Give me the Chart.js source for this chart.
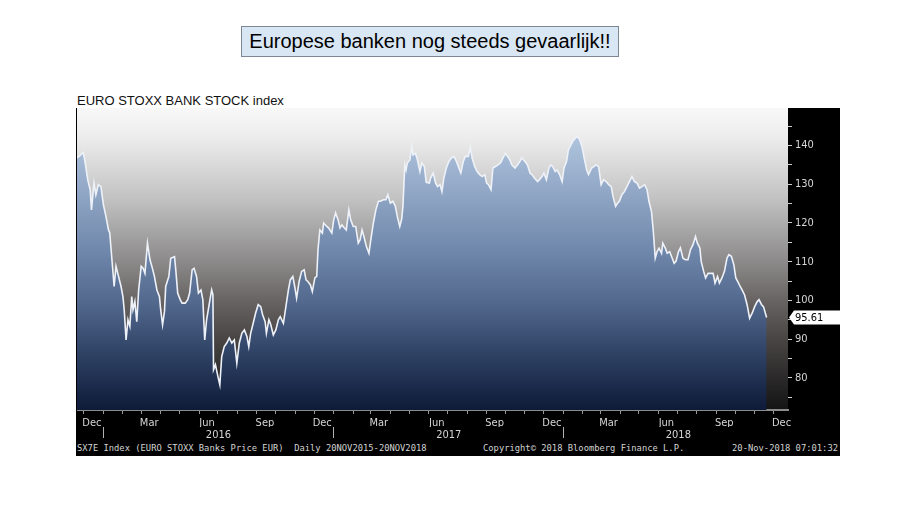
<!DOCTYPE html>
<html>
<head>
<meta charset="utf-8">
<script src="https://cdn.jsdelivr.net/npm/chart.js@4"></script>
<style>
  body { margin: 0; background: #fff; width: 907px; height: 510px; position: relative; overflow: hidden; }
  #kop { position: absolute; left: 241px; top: 26px; width: 376px; height: 29px; background: #d9e7f5;
         border: 1px solid #7d8793; font: 20px "Liberation Sans", Arial, sans-serif; text-align: center;
         line-height: 29px; color: #000; }
  #grafiek { position: absolute; left: 76px; top: 88px; width: 764px; height: 368px; background: #fff; }
  #titel { position: absolute; left: 1px; top: 5px; font: 13px "Liberation Sans", Arial, sans-serif; color: #111; }
  #vak { position: absolute; left: 0; top: 20px; width: 764px; height: 334px; background: #000; }
  #vak canvas { position: absolute; left: 1px; top: 0; }
  #voet { position: absolute; left: 0; top: 354px; width: 764px; height: 14px; background: #000; color: #d4d4d4;
          font: 8.8px "DejaVu Sans Mono", monospace; line-height: 13px; white-space: pre; }
  #voet span { position: absolute; top: 0; }
</style>
</head>
<body>
<div id="kop">Europese banken nog steeds gevaarlijk!!</div>
<div id="grafiek">
  <div id="titel">EURO STOXX BANK STOCK index</div>
  <div id="vak"><canvas id="lijn" width="763" height="334"></canvas></div>
  <div id="voet">
    <span style="left:1px">SX7E Index (EURO STOXX Banks Price EUR)  Daily 20NOV2015-20NOV2018</span>
    <span style="left:407px">Copyright© 2018 Bloomberg Finance L.P.</span>
    <span style="right:2px">20-Nov-2018 07:01:32</span>
  </div>
</div>
<script>
// Data
const startDate = "2015-11-20";
const dates = [
  "2015-11-20","2015-11-26","2015-11-30","2015-12-03","2015-12-07","2015-12-11","2015-12-13","2015-12-17","2015-12-20","2015-12-24",
  "2015-12-28","2016-01-01","2016-01-05","2016-01-09","2016-01-11","2016-01-15","2016-01-18","2016-01-21","2016-01-25","2016-01-29",
  "2016-02-01","2016-02-03","2016-02-06","2016-02-09","2016-02-12","2016-02-15","2016-02-17","2016-02-20","2016-02-23","2016-02-26",
  "2016-03-01","2016-03-04","2016-03-07","2016-03-11","2016-03-15","2016-03-18","2016-03-22","2016-03-26","2016-03-30","2016-04-01",
  "2016-04-04","2016-04-07","2016-04-09","2016-04-14","2016-04-17","2016-04-23","2016-04-25","2016-04-28","2016-05-02","2016-05-05",
  "2016-05-10","2016-05-14","2016-05-17","2016-05-21","2016-05-24","2016-05-28","2016-05-31","2016-06-04","2016-06-07","2016-06-10",
  "2016-06-13","2016-06-17","2016-06-21","2016-06-23","2016-06-24","2016-06-27","2016-07-01","2016-07-04","2016-07-07","2016-07-11",
  "2016-07-15","2016-07-19","2016-07-23","2016-07-27","2016-07-31","2016-08-04","2016-08-08","2016-08-12","2016-08-16","2016-08-19",
  "2016-08-22","2016-08-26","2016-08-30","2016-09-03","2016-09-07","2016-09-10","2016-09-14","2016-09-16","2016-09-20","2016-09-23",
  "2016-09-27","2016-10-01","2016-10-05","2016-10-08","2016-10-13","2016-10-17","2016-10-21","2016-10-24","2016-10-28","2016-10-31",
  "2016-11-03","2016-11-07","2016-11-11","2016-11-15","2016-11-18","2016-11-21","2016-11-25","2016-11-28","2016-12-02","2016-12-05",
  "2016-12-07","2016-12-10","2016-12-14","2016-12-16","2016-12-21","2016-12-24","2016-12-29","2017-01-01","2017-01-04","2017-01-08",
  "2017-01-11","2017-01-14","2017-01-18","2017-01-21","2017-01-25","2017-01-28","2017-02-01","2017-02-05","2017-02-09","2017-02-12",
  "2017-02-15","2017-02-18","2017-02-22","2017-02-26","2017-03-01","2017-03-05","2017-03-09","2017-03-13","2017-03-16","2017-03-21",
  "2017-03-25","2017-03-28","2017-04-01","2017-04-05","2017-04-09","2017-04-12","2017-04-16","2017-04-19","2017-04-21","2017-04-24",
  "2017-04-26","2017-04-28","2017-05-02","2017-05-05","2017-05-07","2017-05-11","2017-05-14","2017-05-18","2017-05-21","2017-05-25",
  "2017-05-28","2017-06-02","2017-06-04","2017-06-08","2017-06-12","2017-06-15","2017-06-19","2017-06-22","2017-06-25","2017-06-29",
  "2017-07-03","2017-07-07","2017-07-11","2017-07-15","2017-07-19","2017-07-22","2017-07-26","2017-07-29","2017-08-03","2017-08-06",
  "2017-08-09","2017-08-13","2017-08-17","2017-08-21","2017-08-25","2017-08-29","2017-09-01","2017-09-04","2017-09-08","2017-09-11",
  "2017-09-15","2017-09-19","2017-09-23","2017-09-27","2017-10-01","2017-10-04","2017-10-08","2017-10-11","2017-10-16","2017-10-20",
  "2017-10-24","2017-10-27","2017-11-01","2017-11-05","2017-11-09","2017-11-12","2017-11-16","2017-11-21","2017-11-24","2017-11-28",
  "2017-12-01","2017-12-05","2017-12-09","2017-12-12","2017-12-15","2017-12-19","2017-12-22","2017-12-26","2017-12-30","2018-01-02",
  "2018-01-06","2018-01-09","2018-01-13","2018-01-16","2018-01-20","2018-01-23","2018-01-27","2018-01-31","2018-02-03","2018-02-07",
  "2018-02-10","2018-02-15","2018-02-19","2018-02-22","2018-02-26","2018-03-02","2018-03-06","2018-03-10","2018-03-14","2018-03-18",
  "2018-03-21","2018-03-25","2018-03-28","2018-03-31","2018-04-04","2018-04-08","2018-04-12","2018-04-16","2018-04-20","2018-04-24",
  "2018-04-28","2018-05-02","2018-05-06","2018-05-10","2018-05-14","2018-05-17","2018-05-21","2018-05-24","2018-05-27","2018-05-30",
  "2018-06-02","2018-06-06","2018-06-08","2018-06-12","2018-06-15","2018-06-19","2018-06-23","2018-06-26","2018-06-29","2018-07-03",
  "2018-07-06","2018-07-10","2018-07-14","2018-07-18","2018-07-22","2018-07-26","2018-07-30","2018-08-02","2018-08-06","2018-08-08",
  "2018-08-12","2018-08-15","2018-08-19","2018-08-23","2018-08-27","2018-08-30","2018-09-03","2018-09-06","2018-09-10","2018-09-14",
  "2018-09-18","2018-09-21","2018-09-25","2018-09-29","2018-10-02","2018-10-05","2018-10-09","2018-10-12","2018-10-16","2018-10-20",
  "2018-10-24","2018-10-28","2018-11-01","2018-11-05","2018-11-08","2018-11-12","2018-11-15","2018-11-20"
];
const values = [
  136.8,137.6,138.2,135.5,131.2,128.6,123.4,130.3,127.3,129.9,
  129.4,124.7,121.7,118.2,117.5,109.6,103.6,108.8,106.2,103.6,
  101.0,97.6,89.8,95.0,93.3,101.0,97.6,99.7,94.5,102.7,
  108.8,108.3,107.0,114.8,110.5,108.8,106.2,102.7,101.0,97.6,
  93.7,97.1,103.6,106.2,110.9,111.3,107.9,101.9,100.2,99.3,
  99.3,100.2,101.9,107.9,108.3,106.2,101.9,102.7,100.2,89.8,
  95.0,98.9,102.7,101.5,82.1,83.4,80.3,78.2,85.5,88.1,
  89.0,90.3,89.0,89.8,83.8,89.0,91.5,92.4,90.7,88.1,
  91.5,94.1,96.8,98.9,98.4,96.3,94.5,91.5,95.0,93.7,
  91.1,92.4,95.0,95.8,94.1,98.4,102.7,105.3,106.2,103.6,
  100.6,104.9,107.5,107.9,105.3,104.9,104.0,102.3,105.8,106.2,
  113.1,118.2,117.4,120.0,119.1,118.7,117.4,120.8,122.6,120.8,
  118.7,119.5,118.7,118.2,123.4,120.8,119.1,119.1,114.8,115.7,
  118.2,116.5,113.9,112.2,115.7,120.0,123.4,125.6,125.6,126.0,
  126.0,127.3,125.1,125.6,124.3,121.7,119.1,121.0,124.3,135.0,
  133.7,135.5,136.3,139.8,137.6,138.0,136.3,133.3,135.5,134.6,
  130.5,130.3,131.6,132.9,130.3,129.4,129.9,128.1,131.6,134.2,
  135.9,136.8,137.2,135.9,134.2,132.9,135.9,137.2,137.2,139.5,
  136.8,134.6,133.3,132.5,132.0,132.5,130.3,129.9,128.6,134.2,
  134.6,135.0,135.5,136.8,138.0,137.2,136.3,135.0,134.2,135.0,
  135.9,136.8,135.9,135.0,132.9,132.5,131.6,130.7,131.2,132.0,
  132.9,131.2,134.2,135.0,134.6,133.3,133.7,132.5,130.7,134.2,
  135.9,138.9,140.2,141.1,141.9,142.4,141.5,139.4,136.8,133.7,
  132.5,134.2,134.6,135.0,134.6,129.9,131.2,130.7,129.9,129.4,
  126.8,124.3,125.1,125.6,127.3,128.1,129.4,130.7,132.0,130.7,
  130.3,129.0,129.4,129.9,128.6,125.6,123.0,117.8,110.9,112.6,
  113.5,112.2,114.8,113.5,112.2,112.6,110.9,109.6,110.1,112.6,
  113.6,110.9,110.5,110.5,113.1,114.4,116.5,114.8,113.5,110.1,
  107.5,105.8,107.0,107.0,107.0,104.5,106.2,104.5,105.8,107.5,
  110.9,111.8,111.4,109.2,105.8,104.9,103.6,102.7,101.4,98.9,
  95.4,96.7,98.4,99.7,100.2,98.9,98.4,95.61
];

// As-labels
const monthNames = ["Jan","Feb","Mar","Apr","May","Jun","Jul","Aug","Sep","Oct","Nov","Dec"];
const labelMonths = ["Dec","Mar","Jun","Sep"];
const yearLabels = ["2016","2017","2018"];

const dag = 864e5;
const t0 = Date.parse(startDate);
const dagNr = d => (Date.parse(d) - t0) / dag;
const punten = dates.map((d, i) => ({ x: dagNr(d), y: values[i] }));

// Maandstreepjes van dec 2015 t/m dec 2018
const maandTicks = [];
for (let j = 2015 * 12 + 11; j <= 2018 * 12 + 11; j++) {
    const y = Math.floor(j / 12), m = j % 12;
    maandTicks.push({ value: (Date.UTC(y, m, 1) - t0) / dag, label: monthNames[m] });
}
const jaarTicks = yearLabels.map(j => ({ value: (Date.UTC(+j, 0, 1) - t0) / dag, label: j }));

const asFont = { family: '"DejaVu Sans Condensed", "DejaVu Sans", sans-serif', size: 11 };

// geen extra ruimte voor uitstekende labels
const geenPadding = s => { s.paddingLeft = 0; s.paddingRight = 0; s.paddingTop = 0; s.paddingBottom = 0; };

const achtergrond = {
    id: "achtergrond",
    beforeDraw(chart) {
        const { ctx, chartArea: a } = chart;
        ctx.save();
        ctx.fillStyle = "#000";
        ctx.fillRect(0, 0, chart.width, chart.height);
        const g = ctx.createLinearGradient(0, a.top, 0, a.bottom);
        g.addColorStop(0, "#f8f8f8");
        g.addColorStop(0.1, "#ececec");
        g.addColorStop(0.3, "#c2c2c2");
        g.addColorStop(0.5, "#8e8c8c");
        g.addColorStop(0.64, "#676363");
        g.addColorStop(0.76, "#4a4646");
        g.addColorStop(0.88, "#2e2c2c");
        g.addColorStop(1, "#141414");
        ctx.fillStyle = g;
        ctx.fillRect(a.left, a.top, a.right - a.left, a.bottom - a.top);
        ctx.restore();
    },
    afterDraw(chart) {
        // Laatste koers naast de as
        const { ctx, chartArea: a, scales } = chart;
        const laatste = values[values.length - 1];
        const y = scales.y.getPixelForValue(laatste);
        ctx.save();
        ctx.fillStyle = "#fff";
        ctx.beginPath();
        ctx.moveTo(a.right + 1, y);
        ctx.lineTo(a.right + 6, y - 7);
        ctx.lineTo(chart.width, y - 7);
        ctx.lineTo(chart.width, y + 7);
        ctx.lineTo(a.right + 6, y + 7);
        ctx.closePath();
        ctx.fill();
        ctx.fillStyle = "#000";
        ctx.font = '11px "DejaVu Sans Condensed", "DejaVu Sans", sans-serif';
        ctx.textBaseline = "middle";
        ctx.fillText(laatste.toFixed(2), a.right + 7, y + 1);
        ctx.restore();
    }
};

new Chart(document.getElementById("lijn"), {
    type: "line",
    data: {
        datasets: [{
            data: punten,
            borderColor: "#eef2f8",
            borderWidth: 1.6,
            pointRadius: 0,
            tension: 0,
            fill: "start",
            backgroundColor: (c) => {
                const a = c.chart.chartArea;
                if (!a) return "#6a82a6";
                const g = c.chart.ctx.createLinearGradient(0, a.top, 0, a.bottom);
                g.addColorStop(0, "#c2d3e8");
                g.addColorStop(0.15, "#a6bbd6");
                g.addColorStop(0.47, "#7088ac");
                g.addColorStop(0.64, "#53698e");
                g.addColorStop(0.8, "#314568");
                g.addColorStop(1, "#0e1a38");
                return g;
            }
        }]
    },
    options: {
        responsive: false,
        animation: false,
        layout: { padding: 0 },
        plugins: { legend: { display: false }, tooltip: { enabled: false } },
        scales: {
            x: {
                type: "linear", position: "bottom", min: 0, max: 1130, weight: 0,
                afterBuildTicks: s => { s.ticks = maandTicks.map(t => ({ value: t.value })); },
                afterFit: s => { s.height = 17; geenPadding(s); },
                grid: { drawOnChartArea: false, color: "#9a9a9a", tickLength: 4 },
                border: { display: true, color: "#8c8c8c", width: 2 },
                ticks: {
                    autoSkip: false, maxRotation: 0, padding: 3, labelOffset: 8,
                    color: "#d6d6d6", font: asFont,
                    callback: (v, i) => labelMonths.includes(maandTicks[i].label) ? maandTicks[i].label : ""
                }
            },
            x2: {
                type: "linear", position: "bottom", min: 0, max: 1130, weight: 1,
                afterBuildTicks: s => { s.ticks = jaarTicks.map(t => ({ value: t.value })); },
                afterFit: s => { s.height = 15; geenPadding(s); },
                grid: { drawOnChartArea: false, color: "#b0b0b0", tickLength: 11 },
                border: { display: false },
                ticks: {
                    autoSkip: false, maxRotation: 0, padding: -9, labelOffset: 115,
                    color: "#d6d6d6", font: asFont,
                    callback: (v, i) => jaarTicks[i].label
                }
            },
            y: {
                position: "right", min: 71.7, max: 149.7,
                afterFit: s => { s.width = 52; geenPadding(s); },
                grid: { drawOnChartArea: false, color: "#cfcfcf", tickLength: 4 },
                border: { display: false },
                ticks: {
                    stepSize: 5, includeBounds: false, padding: 3,
                    color: "#d6d6d6", font: asFont,
                    callback: v => v % 10 === 0 ? v : ""
                }
            }
        }
    },
    plugins: [achtergrond]
});
</script>
</body>
</html>
